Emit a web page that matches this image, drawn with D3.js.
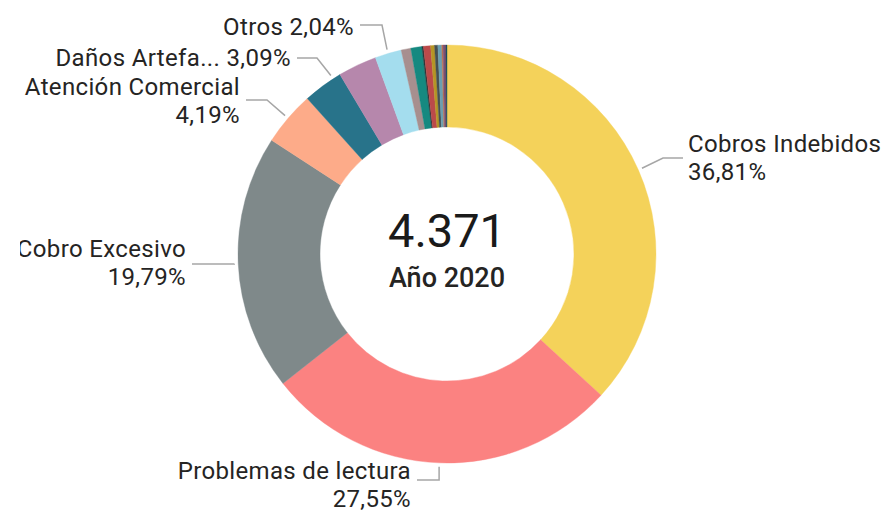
<!DOCTYPE html>
<html>
<head>
<meta charset="utf-8">
<script src="https://cdn.jsdelivr.net/npm/d3@7"></script>
<style>
  html, body { margin: 0; padding: 0; background: #ffffff; }
  svg { display: block; }
</style>
</head>
<body>
<svg id="chart" width="886" height="511"></svg>
<script>
// ---- data ----
const categories = [
  "Cobros Indebidos", "Problemas de lectura", "Cobro Excesivo", "Atención Comercial",
  "Daños Artefa...", "Categoría 6", "Otros",
  "Categoría 8", "Categoría 9", "Categoría 10", "Categoría 11", "Categoría 12",
  "Categoría 13", "Categoría 14", "Categoría 15", "Categoría 16", "Categoría 17"
];
const percents = [
  36.81, 27.55, 19.79, 4.19,
  3.09, 3.00, 2.04,
  0.75, 0.85, 0.12, 0.55, 0.30,
  0.25, 0.30, 0.10, 0.22, 0.08
];
const colors = [
  "#F4D25A", "#FB8281", "#7F898A", "#FDAB89",
  "#28738A", "#B687AC", "#A4DDEE",
  "#A78F8F", "#168980", "#293537", "#BB4A4A", "#B59525",
  "#475052", "#6A9FB0", "#BD7150", "#7B4F71", "#1B4D5C"
];
const totalCount = 4371;
const subtitle = "Año 2020";

// ---- label layout (styling/placement only) ----
const labelLayout = {
  0: { anchor: "start", textX: 688, textY: 157, lineY: 158, elbowX: 663, twoLines: true },
  1: { anchor: "end",   textX: 411, textY: 484, lineY: 480, elbowX: null, twoLines: true },
  2: { anchor: "end",   textX: 186, textY: 262, lineY: 264, elbowX: null, twoLines: true },
  3: { anchor: "end",   textX: 240, textY: 100, lineY: 100, elbowX: 267, twoLines: true },
  4: { anchor: "end",   textX: 291, textY: 57,  lineY: 58,  elbowX: 317, twoLines: false, frac: 0.8 },
  6: { anchor: "end",   textX: 354, textY: 26,  lineY: 25,  elbowX: 382, twoLines: false }
};

const W = 886, H = 511;
const cx = 447, cy = 254, R = 209, r = 127;

const locale = d3.formatLocale({ decimal: ",", thousands: ".", grouping: [3], currency: ["", "€"] });
const fmtPct = v => locale.format(".2f")(v) + "%";
const fmtInt = locale.format(",d");

const svg = d3.select("#chart");
svg.append("defs").append("clipPath").attr("id", "vis-clip")
  .append("rect").attr("x", 20).attr("y", 0).attr("width", W - 20).attr("height", H);

const root = svg.append("g").attr("clip-path", "url(#vis-clip)");
const g = root.append("g").attr("transform", `translate(${cx},${cy})`);

const data = categories.map((c, i) => ({ name: c, value: percents[i], color: colors[i], idx: i }));

const pie = d3.pie().value(d => d.value).sort(null);
const arcs = pie(data);
const arc = d3.arc().innerRadius(r).outerRadius(R);

g.selectAll("path.slice").data(arcs).join("path")
  .attr("class", "slice")
  .attr("d", arc)
  .attr("fill", d => d.data.color)
  .attr("stroke", d => d.data.color)
  .attr("stroke-width", 0.4);

// center text
g.append("text")
  .attr("x", 0).attr("y", -7)
  .attr("text-anchor", "middle")
  .attr("font-family", "Roboto, 'Noto Sans', sans-serif")
  .attr("font-size", 47)
  .attr("font-weight", 400)
  .attr("fill", "#1a1a1a")
  .text(fmtInt(totalCount));
g.append("text")
  .attr("x", 0).attr("y", 33)
  .attr("text-anchor", "middle")
  .attr("font-family", "Roboto, 'Noto Sans', sans-serif")
  .attr("font-size", 27)
  .attr("font-weight", 500)
  .attr("fill", "#252423")
  .text(subtitle);

// labels & leaders
const labelFont = "Roboto, 'Noto Sans', sans-serif";
const fs = 24, cap = 8.5, lineGap = 14;
arcs.forEach(a => {
  const L = labelLayout[a.data.idx];
  if (!L) return;
  const frac = L.frac == null ? 0.5 : L.frac;
  const ang = a.startAngle + (a.endAngle - a.startAngle) * frac;
  const rs = R + 4;
  const sx = cx + rs * Math.sin(ang), sy = cy - rs * Math.cos(ang);
  const endX = L.anchor === "start" ? L.textX - 5 : L.textX + 6;
  const pts = [[sx, sy]];
  if (L.elbowX != null) pts.push([L.elbowX, L.lineY]);
  else pts.push([sx, L.lineY]);
  pts.push([endX, L.lineY]);
  root.append("path")
    .attr("d", d3.line()(pts))
    .attr("fill", "none")
    .attr("stroke", "#a6a6a6")
    .attr("stroke-width", 1.5);

  const t = root.append("text")
    .attr("text-anchor", L.anchor)
    .attr("font-family", labelFont)
    .attr("font-size", fs)
    .attr("letter-spacing", 0.35)
    .attr("fill", "#252423");
  if (L.twoLines) {
    t.append("tspan").attr("x", L.textX).attr("y", L.textY - lineGap + cap).text(a.data.name);
    t.append("tspan").attr("x", L.textX).attr("y", L.textY + lineGap + cap).text(fmtPct(a.data.value));
  } else {
    t.append("tspan").attr("x", L.textX).attr("y", L.textY + cap)
      .text(a.data.name + " " + fmtPct(a.data.value));
  }
});
</script>
</body>
</html>
